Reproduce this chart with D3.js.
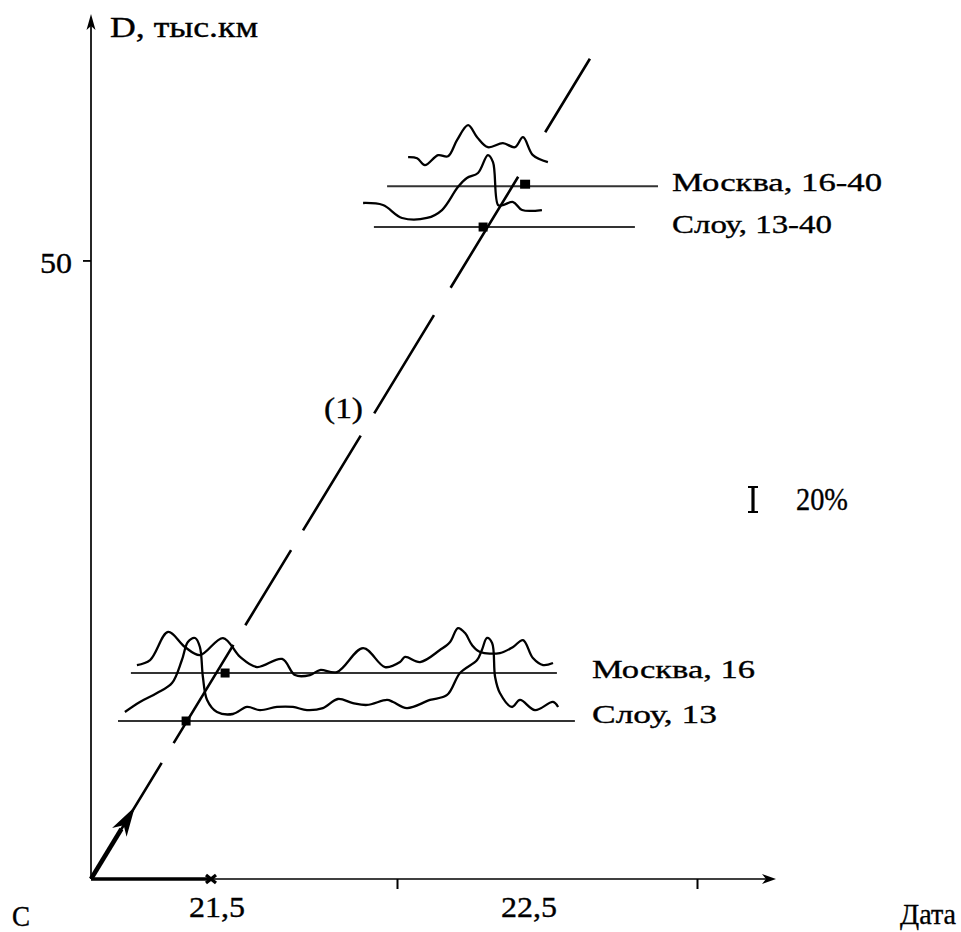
<!DOCTYPE html>
<html>
<head>
<meta charset="utf-8">
<script src="https://cdn.jsdelivr.net/npm/d3@7"></script>
<style>
  html, body { margin: 0; padding: 0; background: #fff; }
  svg { display: block; }
  text { font-family: "Liberation Serif", "Times New Roman", serif; fill: #000; stroke: #000; stroke-width: 0.35px; }
</style>
</head>
<body>
<script>
// ---------------- DATA ----------------
const xDomain = [20.98, 23.26];          // date (days)
const yDomain = [0, 70];                 // D, thousand km
const xTickDates = [22, 23];
const xTickLabels = ["21,5", "22,5"];
const xTickLabelDates = [21.4, 22.44];
const crossDate = 21.38;
const yTickValues = [50];
const yTitle = "D, тыс.км";
const xTitle = "Дата";
const originLabel = "С";

// line (1)
const line1 = [[20.98, 0], [22.643, 66.3]];
const line1Label = "(1)";
const arrowEndFrac = 0.088;

// station records
const stationNames = ["Москва, 16-40", "Слоу, 13-40", "Москва, 16", "Слоу, 13"];
const stationLevels = [56.0, 52.7, 16.65, 12.77];
const levelStart = [21.967, 21.923, 21.113, 21.07];
const levelEnd = [22.87, 22.793, 22.533, 22.593];
const markerDates = [22.427, 22.287, 21.427, 21.297];

// relative variations (%) vs date
const curveMoscow1640 = [
  [22.037,21.5],[22.067,20.7],[22.093,15.6],[22.137,23.0],[22.17,22.2],[22.2,34.1],
  [22.237,45.2],[22.267,36.3],[22.303,28.9],[22.353,31.9],[22.393,28.9],[22.42,36.3],
  [22.453,23.0],[22.503,17.8]
];
const curveSlough1340 = [
  [21.887,17.8],[21.953,16.3],[22.017,6.7],[22.1,6.7],[22.15,12.6],[22.203,29.6],
  [22.233,36.3],[22.27,40.0],[22.303,53.3],[22.32,48.1],[22.337,16.3],[22.353,16.3],
  [22.387,18.5],[22.417,12.6],[22.483,12.6]
];
const curveMoscow16 = [
  [21.133,5.9],[21.177,9.6],[21.237,30.4],[21.293,19.3],[21.343,13.3],[21.42,25.9],
  [21.477,11.9],[21.533,4.4],[21.617,10.4],[21.66,-1.5],[21.71,-1.5],[21.743,2.2],
  [21.80,0.7],[21.887,18.5],[21.96,4.4],[22.01,8.1],[22.027,11.9],[22.077,8.1],
  [22.143,17.0],[22.177,23.0],[22.203,33.3],[22.227,29.6],[22.25,20.7],[22.277,15.6],
  [22.343,14.8],[22.387,19.3],[22.42,24.4],[22.453,11.1],[22.487,5.9],[22.52,7.4]
];
const curveSlough13 = [
  [21.093,6.7],[21.143,14.1],[21.2,20.7],[21.25,28.1],[21.283,45.2],[21.303,58.5],
  [21.327,61.5],[21.343,54.8],[21.353,32.6],[21.367,15.6],[21.4,6.7],[21.453,5.2],
  [21.5,10.4],[21.543,8.1],[21.6,10.4],[21.653,10.4],[21.7,8.1],[21.753,9.6],
  [21.803,16.3],[21.853,13.3],[21.9,11.9],[21.967,15.6],[21.987,14.1],[22.033,9.6],
  [22.11,15.6],[22.167,19.3],[22.21,35.6],[22.267,45.2],[22.283,52.6],[22.3,61.5],
  [22.317,57.8],[22.327,32.6],[22.343,20.7],[22.383,10.4],[22.41,15.6],[22.46,8.1],
  [22.52,14.1],[22.537,10.4]
];
const curves = [curveMoscow1640, curveSlough1340, curveMoscow16, curveSlough13];
const scaleBarPct = 20;
const scaleBarLabel = "20%";

// ---------------- LAYOUT ----------------
const W = 961, H = 932;
const svg = d3.select("body").append("svg").attr("width", W).attr("height", H);
svg.append("rect").attr("width", W).attr("height", H).attr("fill", "#fff");

const x = d3.scaleLinear().domain(xDomain).range([91, 775]);
const y = d3.scaleLinear().domain(yDomain).range([879, 13]);
const pct = d3.scaleLinear().domain([0, 20]).range([0, 27]);

const x0 = x(xDomain[0]), y0 = y(0);

// Y axis line + arrow
svg.append("line").attr("x1", x0).attr("y1", y0).attr("x2", x0).attr("y2", y(yDomain[1]) + 10)
  .attr("stroke", "#000").attr("stroke-width", 1.7);
svg.append("path")
  .attr("d", `M${x0},${y(yDomain[1]) + 1} L${x0 - 4.5},${y(yDomain[1]) + 17} L${x0},${y(yDomain[1]) + 13} L${x0 + 4.5},${y(yDomain[1]) + 17} Z`)
  .attr("fill", "#000");

// Y ticks
const gy = svg.append("g").attr("transform", `translate(${x0},0)`)
  .call(d3.axisLeft(y).tickValues(yTickValues).tickSize(8).tickPadding(11).tickFormat(d => d));
gy.select(".domain").remove();
gy.selectAll(".tick line").attr("stroke", "#000").attr("stroke-width", 1.8);
gy.selectAll(".tick text").attr("font-size", 29).attr("dy", "0.4em")
  .attr("font-family", "'Liberation Serif', serif").attr("fill", "#000")
  .attr("textLength", 32).attr("lengthAdjust", "spacingAndGlyphs");

// X axis: thick part, thin part, arrow
svg.append("line").attr("x1", x0).attr("y1", y0).attr("x2", x(crossDate)).attr("y2", y0)
  .attr("stroke", "#000").attr("stroke-width", 3.4);
svg.append("line").attr("x1", x(crossDate)).attr("y1", y0).attr("x2", x(xDomain[1]) - 6).attr("y2", y0)
  .attr("stroke", "#000").attr("stroke-width", 1.7);
svg.append("path")
  .attr("d", `M${x(xDomain[1]) + 1},${y0} L${x(xDomain[1]) - 13},${y0 - 5} L${x(xDomain[1]) - 9},${y0} L${x(xDomain[1]) - 13},${y0 + 5} Z`)
  .attr("fill", "#000");

// X ticks
const gx = svg.append("g").attr("transform", `translate(0,${y0})`)
  .call(d3.axisBottom(x).tickValues(xTickDates).tickSize(10).tickFormat(""));
gx.select(".domain").remove();
gx.selectAll(".tick line").attr("stroke", "#000").attr("stroke-width", 2);

// cross mark on x axis
const cx = x(crossDate);
svg.append("path")
  .attr("d", `M${cx - 5},${y0 - 4} L${cx + 5},${y0 + 4} M${cx - 5},${y0 + 4} L${cx + 5},${y0 - 4}`)
  .attr("stroke", "#000").attr("stroke-width", 3.2);

// X tick labels
svg.selectAll(".xlab").data(xTickLabels).join("text").attr("class", "xlab")
  .attr("x", (d, i) => x(xTickLabelDates[i])).attr("y", 917)
  .attr("text-anchor", "middle").attr("font-size", 30)
  .attr("textLength", 56).attr("lengthAdjust", "spacingAndGlyphs")
  .text(d => d);

// titles
svg.append("text").attr("x", 110).attr("y", 37).attr("font-size", 29)
  .attr("textLength", 148).attr("lengthAdjust", "spacingAndGlyphs").text(yTitle);
svg.append("text").attr("x", 12).attr("y", 926).attr("font-size", 29)
  .attr("textLength", 18).attr("lengthAdjust", "spacingAndGlyphs").text(originLabel);
svg.append("text").attr("x", 900).attr("y", 924).attr("font-size", 30)
  .attr("textLength", 56).attr("lengthAdjust", "spacingAndGlyphs").text(xTitle);

// level lines
svg.selectAll(".lvl").data(stationLevels).join("line").attr("class", "lvl")
  .attr("x1", (d, i) => x(levelStart[i])).attr("x2", (d, i) => x(levelEnd[i]))
  .attr("y1", d => y(d)).attr("y2", d => y(d))
  .attr("stroke", "#333").attr("stroke-width", 1.9);

// station labels
const labelX = [672, 672, 592, 592];
const labelDy = [5, 6, 5, 2];
const labelLen = [210, 160, 163, 125];
svg.selectAll(".slab").data(stationNames).join("text").attr("class", "slab")
  .attr("x", (d, i) => labelX[i]).attr("y", (d, i) => y(stationLevels[i]) + labelDy[i])
  .attr("font-size", 26)
  .attr("textLength", (d, i) => labelLen[i]).attr("lengthAdjust", "spacingAndGlyphs")
  .text(d => d);

// curves
const curveGen = level => d3.line()
  .x(d => x(d[0])).y(d => y(level) - pct(d[1]))
  .curve(d3.curveCatmullRom.alpha(0.5));
svg.selectAll(".crv").data(curves).join("path").attr("class", "crv")
  .attr("d", (d, i) => curveGen(stationLevels[i])(d))
  .attr("fill", "none").attr("stroke", "#000").attr("stroke-width", 2.3)
  .attr("stroke-linejoin", "round");

// line (1): dashed
const p0 = [x(line1[0][0]), y(line1[0][1])], p1 = [x(line1[1][0]), y(line1[1][1])];
svg.append("path")
  .attr("d", d3.line()(line1.map(d => [x(d[0]), y(d[1])])))
  .attr("fill", "none").attr("stroke", "#000").attr("stroke-width", 2.6)
  .attr("stroke-dasharray", "136,23,115,23,88,23,111,26,115,32,130,52,87");

// thick arrow from origin along line (1)
const ax = p0[0] + (p1[0] - p0[0]) * arrowEndFrac, ay = p0[1] + (p1[1] - p0[1]) * arrowEndFrac;
const len = Math.hypot(p1[0] - p0[0], p1[1] - p0[1]);
const ux = (p1[0] - p0[0]) / len, uy = (p1[1] - p0[1]) / len;
const hl = 30, hw = 8.5;
const bx = ax - ux * hl, by = ay - uy * hl;
svg.append("line").attr("x1", p0[0]).attr("y1", p0[1]).attr("x2", bx + ux * 4).attr("y2", by + uy * 4)
  .attr("stroke", "#000").attr("stroke-width", 4.5);
svg.append("path")
  .attr("d", `M${ax},${ay} L${bx - uy * hw},${by + ux * hw} L${ax - ux * hl * 0.72},${ay - uy * hl * 0.72} L${bx + uy * hw},${by - ux * hw} Z`)
  .attr("fill", "#000");

// markers
const mSize = [[10, 9], [9, 9], [9, 9], [9, 9]];
svg.selectAll(".mk").data(markerDates).join("rect").attr("class", "mk")
  .attr("x", (d, i) => x(d) - mSize[i][0] / 2)
  .attr("y", (d, i) => y(stationLevels[i]) - mSize[i][1] / 2 - (i === 0 ? 2 : 0))
  .attr("width", (d, i) => mSize[i][0]).attr("height", (d, i) => mSize[i][1])
  .attr("fill", "#000");

// label (1)
svg.append("text").attr("x", 324).attr("y", 418).attr("font-size", 29)
  .attr("textLength", 39).attr("lengthAdjust", "spacingAndGlyphs").text(line1Label);

// scale bar "I 20%"
const sbx = 753, sbBottom = 513, sbTop = sbBottom - pct(scaleBarPct);
svg.append("line").attr("x1", sbx).attr("x2", sbx).attr("y1", sbTop).attr("y2", sbBottom)
  .attr("stroke", "#000").attr("stroke-width", 3.2);
svg.append("path")
  .attr("d", `M${sbx - 5},${sbTop + 1} L${sbx + 5},${sbTop + 1} M${sbx - 5},${sbBottom - 1} L${sbx + 5},${sbBottom - 1}`)
  .attr("stroke", "#000").attr("stroke-width", 2);
svg.append("text").attr("x", 796).attr("y", 510).attr("font-size", 31)
  .attr("textLength", 52).attr("lengthAdjust", "spacingAndGlyphs").text(scaleBarLabel);
</script>
</body>
</html>
